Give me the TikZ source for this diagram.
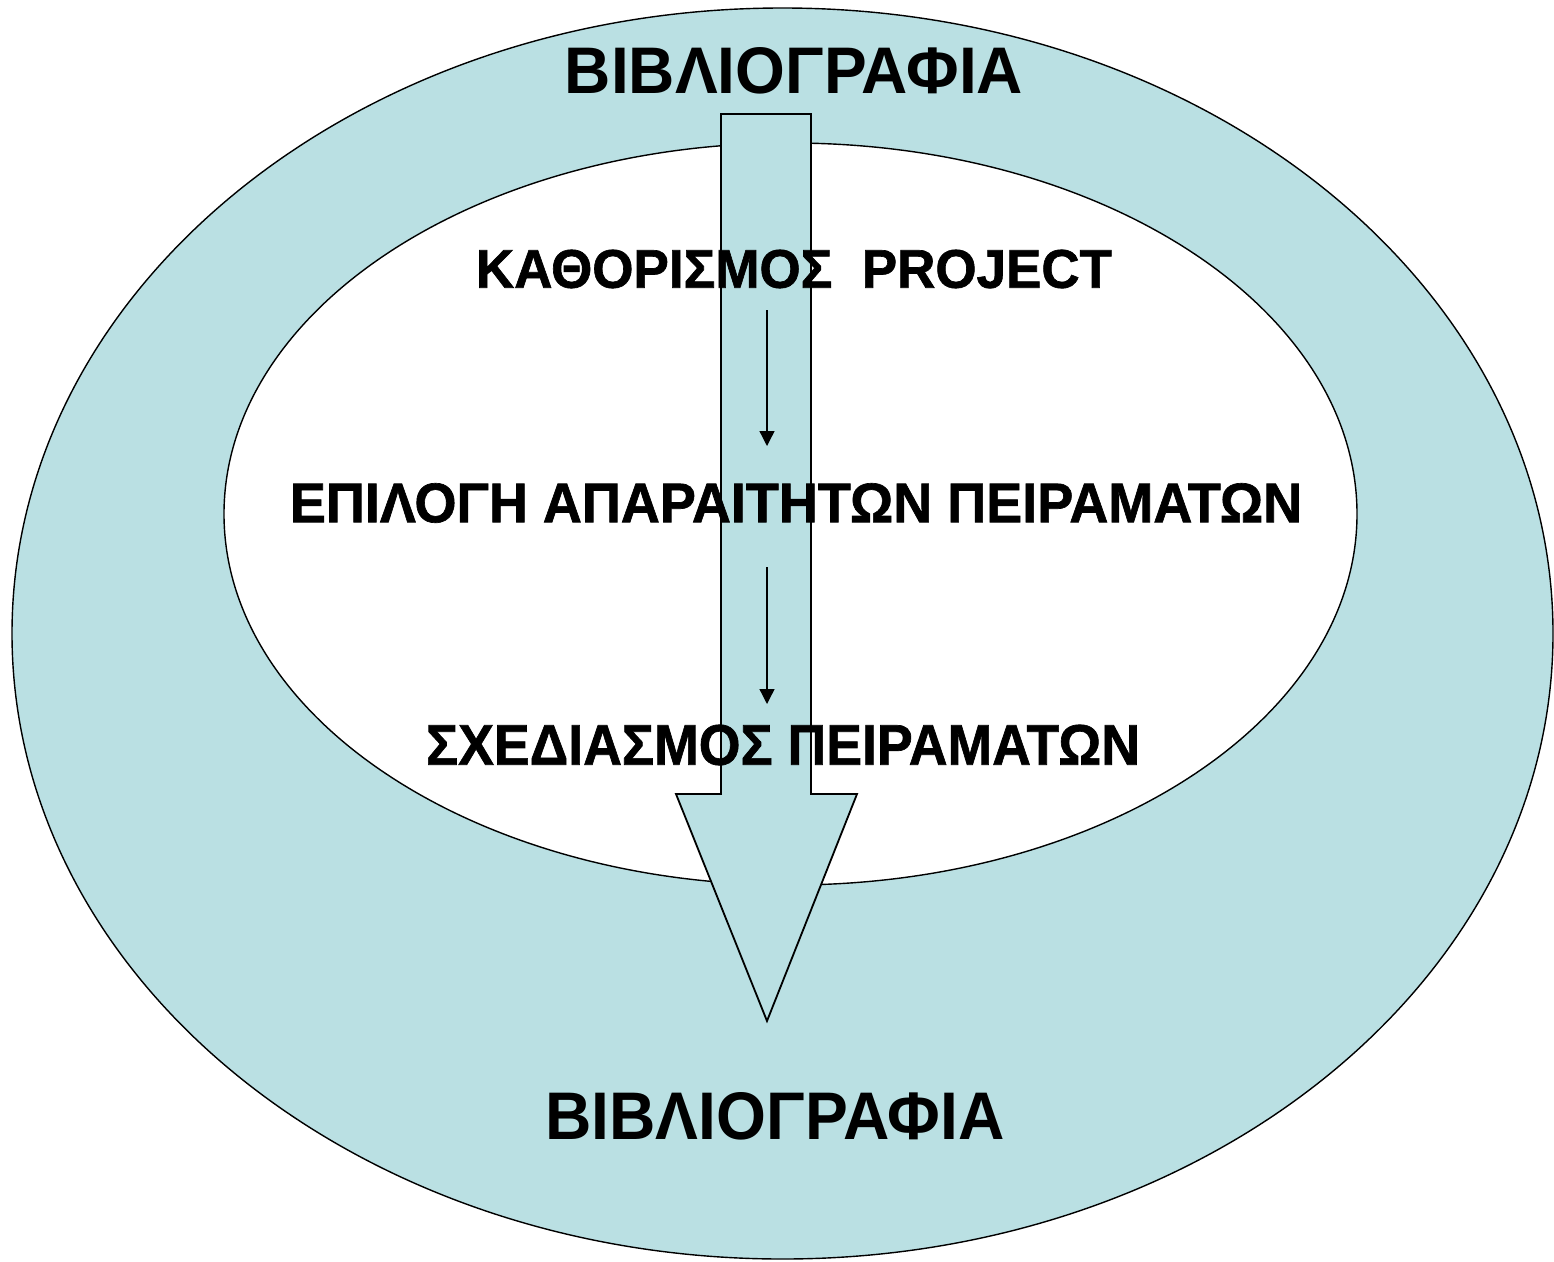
\documentclass[tikz,border=0pt]{standalone}
\usepackage{fontspec}
\setmainfont{Liberation Sans}
\newfontfamily\heavyfont[FakeBold=1.2]{Liberation Sans}
\usetikzlibrary{arrows.meta}
\definecolor{lblue}{RGB}{186,224,227}
\tikzset{
  ring/.style={draw=black, line width=1.4pt, fill=lblue},
  hole/.style={draw=black, line width=1.4pt, fill=white},
  bigarrow/.style={draw=black, line width=1.8pt, fill=lblue, line join=miter},
  lbl/.style={inner sep=0pt, outer sep=0pt, text=black, font=\bfseries},
  smallarrow/.style={line width=1.3pt, -{Triangle[length=15pt,width=15pt]}}
}
\newcommand{\fitbox}[3]{\resizebox{#1pt}{#2pt}{\bfseries #3}}
\newcommand{\fitheavy}[3]{\resizebox{#1pt}{#2pt}{\heavyfont\bfseries #3}}
\begin{document}
\begin{tikzpicture}[x=1pt,y=-1pt]
\useasboundingbox (0,0) rectangle (1554,1261);
\fill[white] (0,0) rectangle (1554,1261);
% outer ring
\path[ring] (782.5,633.5) ellipse [x radius=770.5, y radius=625.5];
% inner ellipse
\path[hole] (790.5,514) ellipse [x radius=566.5, y radius=371];
% big arrow
\path[bigarrow] (721,114) -- (811,114) -- (811,794) -- (857,794) -- (767,1021) -- (676,794) -- (721,794) -- cycle;
% texts
\node[lbl] (top) at (794,71) {\fitbox{458}{46}{ΒΙΒΛΙΟΓΡΑΦΙΑ}};
\node[lbl] (t1) at (794,269) {\fitheavy{636}{38}{ΚΑΘΟΡΙΣΜΟΣ\ \ PROJECT}};
\node[lbl] (t2) at (796,503) {\fitheavy{1012}{39}{ΕΠΙΛΟΓΗ ΑΠΑΡΑΙΤΗΤΩΝ ΠΕΙΡΑΜΑΤΩΝ}};
\node[lbl] (t3) at (783,745) {\fitheavy{714}{40}{ΣΧΕΔΙΑΣΜΟΣ ΠΕΙΡΑΜΑΤΩΝ}};
\node[lbl] (bot) at (775,1116.5) {\fitbox{459}{47}{ΒΙΒΛΙΟΓΡΑΦΙΑ}};
% small arrows
\coordinate (a1s) at (767,310);
\coordinate (a1e) at (767,446);
\coordinate (a2s) at (767,567);
\coordinate (a2e) at (767,704);
\draw[smallarrow] (a1s) -- (a1e);
\draw[smallarrow] (a2s) -- (a2e);
\end{tikzpicture}
\end{document}
